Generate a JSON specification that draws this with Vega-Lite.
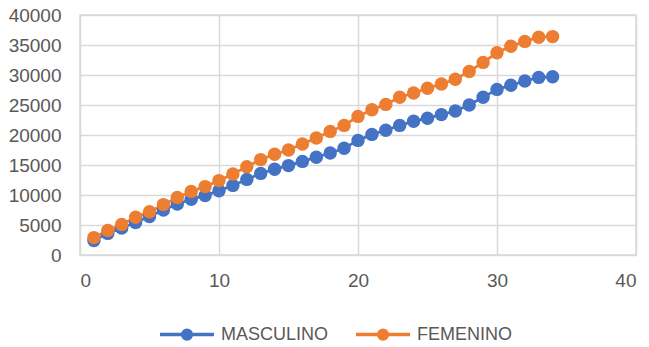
{
  "$schema": "https://vega.github.io/schema/vega-lite/v6.json",
  "width": 556,
  "height": 240,
  "autosize": {"type": "none"},
  "padding": {"left": 80, "top": 15, "right": 13, "bottom": 92},
  "background": "white",
  "config": {
    "font": "Liberation Sans",
    "view": {"stroke": "#D9D9D9", "strokeWidth": 1.5},
    "axis": {"labelFont": "Liberation Sans", "labelFontSize": 19, "labelColor": "#595959", "gridColor": "#D9D9D9", "gridWidth": 1.5, "domain": false, "ticks": false}
  },
  "data": {"values": [
    {"x":1,"serie":"MASCULINO","v":2400},{"x":2,"serie":"MASCULINO","v":3600},{"x":3,"serie":"MASCULINO","v":4500},{"x":4,"serie":"MASCULINO","v":5400},{"x":5,"serie":"MASCULINO","v":6400},{"x":6,"serie":"MASCULINO","v":7500},{"x":7,"serie":"MASCULINO","v":8500},{"x":8,"serie":"MASCULINO","v":9300},{"x":9,"serie":"MASCULINO","v":9900},{"x":10,"serie":"MASCULINO","v":10700},{"x":11,"serie":"MASCULINO","v":11600},{"x":12,"serie":"MASCULINO","v":12600},{"x":13,"serie":"MASCULINO","v":13600},{"x":14,"serie":"MASCULINO","v":14300},{"x":15,"serie":"MASCULINO","v":14900},{"x":16,"serie":"MASCULINO","v":15600},{"x":17,"serie":"MASCULINO","v":16300},{"x":18,"serie":"MASCULINO","v":17000},{"x":19,"serie":"MASCULINO","v":17800},{"x":20,"serie":"MASCULINO","v":19100},{"x":21,"serie":"MASCULINO","v":20100},{"x":22,"serie":"MASCULINO","v":20800},{"x":23,"serie":"MASCULINO","v":21600},{"x":24,"serie":"MASCULINO","v":22300},{"x":25,"serie":"MASCULINO","v":22800},{"x":26,"serie":"MASCULINO","v":23400},{"x":27,"serie":"MASCULINO","v":24000},{"x":28,"serie":"MASCULINO","v":25000},{"x":29,"serie":"MASCULINO","v":26300},{"x":30,"serie":"MASCULINO","v":27600},{"x":31,"serie":"MASCULINO","v":28300},{"x":32,"serie":"MASCULINO","v":29000},{"x":33,"serie":"MASCULINO","v":29600},{"x":34,"serie":"MASCULINO","v":29700},
    {"x":1,"serie":"FEMENINO","v":2900},{"x":2,"serie":"FEMENINO","v":4100},{"x":3,"serie":"FEMENINO","v":5100},{"x":4,"serie":"FEMENINO","v":6300},{"x":5,"serie":"FEMENINO","v":7200},{"x":6,"serie":"FEMENINO","v":8400},{"x":7,"serie":"FEMENINO","v":9600},{"x":8,"serie":"FEMENINO","v":10600},{"x":9,"serie":"FEMENINO","v":11400},{"x":10,"serie":"FEMENINO","v":12400},{"x":11,"serie":"FEMENINO","v":13500},{"x":12,"serie":"FEMENINO","v":14700},{"x":13,"serie":"FEMENINO","v":15900},{"x":14,"serie":"FEMENINO","v":16800},{"x":15,"serie":"FEMENINO","v":17500},{"x":16,"serie":"FEMENINO","v":18500},{"x":17,"serie":"FEMENINO","v":19500},{"x":18,"serie":"FEMENINO","v":20600},{"x":19,"serie":"FEMENINO","v":21600},{"x":20,"serie":"FEMENINO","v":23100},{"x":21,"serie":"FEMENINO","v":24200},{"x":22,"serie":"FEMENINO","v":25100},{"x":23,"serie":"FEMENINO","v":26300},{"x":24,"serie":"FEMENINO","v":27000},{"x":25,"serie":"FEMENINO","v":27800},{"x":26,"serie":"FEMENINO","v":28500},{"x":27,"serie":"FEMENINO","v":29300},{"x":28,"serie":"FEMENINO","v":30600},{"x":29,"serie":"FEMENINO","v":32100},{"x":30,"serie":"FEMENINO","v":33700},{"x":31,"serie":"FEMENINO","v":34800},{"x":32,"serie":"FEMENINO","v":35600},{"x":33,"serie":"FEMENINO","v":36300},{"x":34,"serie":"FEMENINO","v":36400}
  ]},
  "encoding": {
    "x": {"field": "x", "type": "quantitative", "scale": {"domain": [0, 40], "nice": false}, "axis": {"title": null, "values": [0, 10, 20, 30, 40], "labelPadding": 16}},
    "y": {"field": "v", "type": "quantitative", "scale": {"domain": [0, 40000], "nice": false}, "axis": {"title": null, "values": [0, 5000, 10000, 15000, 20000, 25000, 30000, 35000, 40000], "format": "d", "labelPadding": 19}},
    "color": {"field": "serie", "type": "nominal", "sort": ["MASCULINO", "FEMENINO"], "scale": {"domain": ["MASCULINO", "FEMENINO"], "range": ["#4472C4", "#ED7D31"]},
      "legend": {
        "title": null, "orient": "none", "direction": "horizontal", "legendX": 78, "legendY": 304,
        "symbolType": "M-1,0H3M0.68,0A0.32,0.32 0 1,1 1.32,0A0.32,0.32 0 1,1 0.68,0Z",
        "symbolSize": 729, "symbolStrokeWidth": 3.5, "labelOffset": 32,
        "labelFont": "Liberation Sans", "labelFontSize": 18, "labelColor": "#595959",
        "columnPadding": 20,
        "encode": {"symbols": {"update": {"fill": {"scale": "color", "field": "value"}, "stroke": {"scale": "color", "field": "value"}, "opacity": {"value": 1}}}}
      }
    }
  },
  "layer": [
    {"mark": {"type": "line", "strokeWidth": 2.75}},
    {"mark": {"type": "point", "filled": true, "size": 180, "opacity": 1}}
  ]
}
